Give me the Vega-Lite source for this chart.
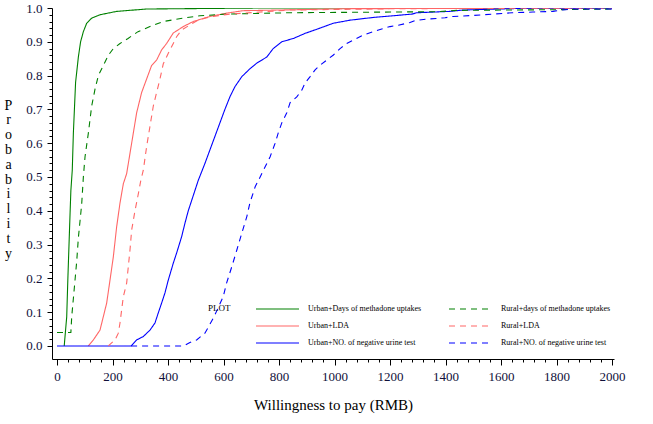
{
  "$schema": "https://vega.github.io/schema/vega-lite/v6.json",
  "width": 562,
  "height": 351,
  "autosize": "none",
  "padding": {"left": 52, "top": 8, "right": 39, "bottom": 65},
  "config": {
    "view": {"stroke": null},
    "font": "Liberation Serif",
    "axis": {"grid": false, "domainColor": "#000000", "tickColor": "#000000", "labelColor": "#10103a", "titleColor": "#000000", "labelFont": "Liberation Serif", "titleFont": "Liberation Serif", "titleFontWeight": "normal"},
    "legend": {"labelFont": "Liberation Serif", "titleFont": "Liberation Serif"}
  },
  "datasets": {
    "curves": [
      {"s": "Urban+Days of methadone uptakes", "x": 26, "p": 0},
      {"s": "Urban+Days of methadone uptakes", "x": 35, "p": 0.086},
      {"s": "Urban+Days of methadone uptakes", "x": 39, "p": 0.195},
      {"s": "Urban+Days of methadone uptakes", "x": 47, "p": 0.39},
      {"s": "Urban+Days of methadone uptakes", "x": 50, "p": 0.46},
      {"s": "Urban+Days of methadone uptakes", "x": 55, "p": 0.52},
      {"s": "Urban+Days of methadone uptakes", "x": 59, "p": 0.63},
      {"s": "Urban+Days of methadone uptakes", "x": 67, "p": 0.78},
      {"s": "Urban+Days of methadone uptakes", "x": 77, "p": 0.855},
      {"s": "Urban+Days of methadone uptakes", "x": 85, "p": 0.9},
      {"s": "Urban+Days of methadone uptakes", "x": 95, "p": 0.93},
      {"s": "Urban+Days of methadone uptakes", "x": 107, "p": 0.955},
      {"s": "Urban+Days of methadone uptakes", "x": 125, "p": 0.97},
      {"s": "Urban+Days of methadone uptakes", "x": 155, "p": 0.98},
      {"s": "Urban+Days of methadone uptakes", "x": 215, "p": 0.99},
      {"s": "Urban+Days of methadone uptakes", "x": 323, "p": 0.997},
      {"s": "Urban+Days of methadone uptakes", "x": 735, "p": 1.0},
      {"s": "Urban+Days of methadone uptakes", "x": 2000, "p": 1.0},

      {"s": "Urban+LDA", "x": 113, "p": 0},
      {"s": "Urban+LDA", "x": 131, "p": 0.018},
      {"s": "Urban+LDA", "x": 155, "p": 0.047},
      {"s": "Urban+LDA", "x": 167, "p": 0.087},
      {"s": "Urban+LDA", "x": 179, "p": 0.127},
      {"s": "Urban+LDA", "x": 191, "p": 0.195},
      {"s": "Urban+LDA", "x": 203, "p": 0.264},
      {"s": "Urban+LDA", "x": 215, "p": 0.353},
      {"s": "Urban+LDA", "x": 227, "p": 0.423},
      {"s": "Urban+LDA", "x": 239, "p": 0.48},
      {"s": "Urban+LDA", "x": 251, "p": 0.51},
      {"s": "Urban+LDA", "x": 269, "p": 0.6},
      {"s": "Urban+LDA", "x": 287, "p": 0.69},
      {"s": "Urban+LDA", "x": 305, "p": 0.75},
      {"s": "Urban+LDA", "x": 323, "p": 0.79},
      {"s": "Urban+LDA", "x": 341, "p": 0.83},
      {"s": "Urban+LDA", "x": 359, "p": 0.846},
      {"s": "Urban+LDA", "x": 377, "p": 0.876},
      {"s": "Urban+LDA", "x": 395, "p": 0.895},
      {"s": "Urban+LDA", "x": 419, "p": 0.926},
      {"s": "Urban+LDA", "x": 455, "p": 0.945},
      {"s": "Urban+LDA", "x": 491, "p": 0.96},
      {"s": "Urban+LDA", "x": 551, "p": 0.975},
      {"s": "Urban+LDA", "x": 613, "p": 0.985},
      {"s": "Urban+LDA", "x": 670, "p": 0.992},
      {"s": "Urban+LDA", "x": 1056, "p": 0.998},
      {"s": "Urban+LDA", "x": 2000, "p": 1.0},

      {"s": "Urban+NO. of negative urine test", "x": 0, "p": 0},
      {"s": "Urban+NO. of negative urine test", "x": 267, "p": 0},
      {"s": "Urban+NO. of negative urine test", "x": 287, "p": 0.018},
      {"s": "Urban+NO. of negative urine test", "x": 311, "p": 0.028},
      {"s": "Urban+NO. of negative urine test", "x": 335, "p": 0.047},
      {"s": "Urban+NO. of negative urine test", "x": 353, "p": 0.068},
      {"s": "Urban+NO. of negative urine test", "x": 365, "p": 0.098},
      {"s": "Urban+NO. of negative urine test", "x": 377, "p": 0.127},
      {"s": "Urban+NO. of negative urine test", "x": 389, "p": 0.157},
      {"s": "Urban+NO. of negative urine test", "x": 401, "p": 0.195},
      {"s": "Urban+NO. of negative urine test", "x": 419, "p": 0.245},
      {"s": "Urban+NO. of negative urine test", "x": 431, "p": 0.275},
      {"s": "Urban+NO. of negative urine test", "x": 449, "p": 0.323},
      {"s": "Urban+NO. of negative urine test", "x": 461, "p": 0.363},
      {"s": "Urban+NO. of negative urine test", "x": 473, "p": 0.4},
      {"s": "Urban+NO. of negative urine test", "x": 485, "p": 0.43},
      {"s": "Urban+NO. of negative urine test", "x": 497, "p": 0.46},
      {"s": "Urban+NO. of negative urine test", "x": 509, "p": 0.49},
      {"s": "Urban+NO. of negative urine test", "x": 533, "p": 0.54},
      {"s": "Urban+NO. of negative urine test", "x": 551, "p": 0.58},
      {"s": "Urban+NO. of negative urine test", "x": 569, "p": 0.62},
      {"s": "Urban+NO. of negative urine test", "x": 587, "p": 0.66},
      {"s": "Urban+NO. of negative urine test", "x": 605, "p": 0.7},
      {"s": "Urban+NO. of negative urine test", "x": 623, "p": 0.737},
      {"s": "Urban+NO. of negative urine test", "x": 641, "p": 0.767},
      {"s": "Urban+NO. of negative urine test", "x": 666, "p": 0.797},
      {"s": "Urban+NO. of negative urine test", "x": 695, "p": 0.82},
      {"s": "Urban+NO. of negative urine test", "x": 720, "p": 0.837},
      {"s": "Urban+NO. of negative urine test", "x": 756, "p": 0.855},
      {"s": "Urban+NO. of negative urine test", "x": 779, "p": 0.88},
      {"s": "Urban+NO. of negative urine test", "x": 810, "p": 0.9},
      {"s": "Urban+NO. of negative urine test", "x": 852, "p": 0.91},
      {"s": "Urban+NO. of negative urine test", "x": 894, "p": 0.925},
      {"s": "Urban+NO. of negative urine test", "x": 936, "p": 0.937},
      {"s": "Urban+NO. of negative urine test", "x": 996, "p": 0.955},
      {"s": "Urban+NO. of negative urine test", "x": 1056, "p": 0.964},
      {"s": "Urban+NO. of negative urine test", "x": 1139, "p": 0.972},
      {"s": "Urban+NO. of negative urine test", "x": 1211, "p": 0.977},
      {"s": "Urban+NO. of negative urine test", "x": 1279, "p": 0.982},
      {"s": "Urban+NO. of negative urine test", "x": 1297, "p": 0.986},
      {"s": "Urban+NO. of negative urine test", "x": 1416, "p": 0.99},
      {"s": "Urban+NO. of negative urine test", "x": 1463, "p": 0.994},
      {"s": "Urban+NO. of negative urine test", "x": 1586, "p": 0.997},
      {"s": "Urban+NO. of negative urine test", "x": 1730, "p": 1.0},
      {"s": "Urban+NO. of negative urine test", "x": 2000, "p": 1.0},

      {"s": "Rural+days of methadone uptakes", "x": 0, "p": 0.04},
      {"s": "Rural+days of methadone uptakes", "x": 50, "p": 0.04},
      {"s": "Rural+days of methadone uptakes", "x": 53, "p": 0.086},
      {"s": "Rural+days of methadone uptakes", "x": 71, "p": 0.25},
      {"s": "Rural+days of methadone uptakes", "x": 77, "p": 0.32},
      {"s": "Rural+days of methadone uptakes", "x": 83, "p": 0.37},
      {"s": "Rural+days of methadone uptakes", "x": 89, "p": 0.42},
      {"s": "Rural+days of methadone uptakes", "x": 95, "p": 0.5},
      {"s": "Rural+days of methadone uptakes", "x": 101, "p": 0.56},
      {"s": "Rural+days of methadone uptakes", "x": 113, "p": 0.63},
      {"s": "Rural+days of methadone uptakes", "x": 125, "p": 0.71},
      {"s": "Rural+days of methadone uptakes", "x": 137, "p": 0.76},
      {"s": "Rural+days of methadone uptakes", "x": 149, "p": 0.8},
      {"s": "Rural+days of methadone uptakes", "x": 167, "p": 0.83},
      {"s": "Rural+days of methadone uptakes", "x": 185, "p": 0.86},
      {"s": "Rural+days of methadone uptakes", "x": 203, "p": 0.88},
      {"s": "Rural+days of methadone uptakes", "x": 227, "p": 0.895},
      {"s": "Rural+days of methadone uptakes", "x": 256, "p": 0.91},
      {"s": "Rural+days of methadone uptakes", "x": 292, "p": 0.93},
      {"s": "Rural+days of methadone uptakes", "x": 335, "p": 0.945},
      {"s": "Rural+days of methadone uptakes", "x": 382, "p": 0.96},
      {"s": "Rural+days of methadone uptakes", "x": 454, "p": 0.97},
      {"s": "Rural+days of methadone uptakes", "x": 515, "p": 0.977},
      {"s": "Rural+days of methadone uptakes", "x": 613, "p": 0.982},
      {"s": "Rural+days of methadone uptakes", "x": 840, "p": 0.986},
      {"s": "Rural+days of methadone uptakes", "x": 1369, "p": 0.989},
      {"s": "Rural+days of methadone uptakes", "x": 1441, "p": 0.993},
      {"s": "Rural+days of methadone uptakes", "x": 1802, "p": 0.995},
      {"s": "Rural+days of methadone uptakes", "x": 2000, "p": 0.997},

      {"s": "Rural+LDA", "x": 185, "p": 0},
      {"s": "Rural+LDA", "x": 191, "p": 0.005},
      {"s": "Rural+LDA", "x": 209, "p": 0.018},
      {"s": "Rural+LDA", "x": 221, "p": 0.038},
      {"s": "Rural+LDA", "x": 227, "p": 0.068},
      {"s": "Rural+LDA", "x": 233, "p": 0.107},
      {"s": "Rural+LDA", "x": 239, "p": 0.146},
      {"s": "Rural+LDA", "x": 251, "p": 0.186},
      {"s": "Rural+LDA", "x": 257, "p": 0.235},
      {"s": "Rural+LDA", "x": 263, "p": 0.284},
      {"s": "Rural+LDA", "x": 269, "p": 0.343},
      {"s": "Rural+LDA", "x": 281, "p": 0.4},
      {"s": "Rural+LDA", "x": 293, "p": 0.45},
      {"s": "Rural+LDA", "x": 302, "p": 0.49},
      {"s": "Rural+LDA", "x": 311, "p": 0.52},
      {"s": "Rural+LDA", "x": 323, "p": 0.59},
      {"s": "Rural+LDA", "x": 335, "p": 0.65},
      {"s": "Rural+LDA", "x": 347, "p": 0.71},
      {"s": "Rural+LDA", "x": 359, "p": 0.75},
      {"s": "Rural+LDA", "x": 371, "p": 0.79},
      {"s": "Rural+LDA", "x": 383, "p": 0.835},
      {"s": "Rural+LDA", "x": 401, "p": 0.866},
      {"s": "Rural+LDA", "x": 419, "p": 0.895},
      {"s": "Rural+LDA", "x": 431, "p": 0.915},
      {"s": "Rural+LDA", "x": 449, "p": 0.935},
      {"s": "Rural+LDA", "x": 479, "p": 0.95},
      {"s": "Rural+LDA", "x": 508, "p": 0.964},
      {"s": "Rural+LDA", "x": 551, "p": 0.974},
      {"s": "Rural+LDA", "x": 623, "p": 0.982},
      {"s": "Rural+LDA", "x": 840, "p": 0.994},
      {"s": "Rural+LDA", "x": 1236, "p": 0.998},
      {"s": "Rural+LDA", "x": 2000, "p": 1.0},

      {"s": "Rural+NO. of negative urine test", "x": 267, "p": 0},
      {"s": "Rural+NO. of negative urine test", "x": 455, "p": 0},
      {"s": "Rural+NO. of negative urine test", "x": 479, "p": 0.01},
      {"s": "Rural+NO. of negative urine test", "x": 503, "p": 0.018},
      {"s": "Rural+NO. of negative urine test", "x": 533, "p": 0.038},
      {"s": "Rural+NO. of negative urine test", "x": 565, "p": 0.085},
      {"s": "Rural+NO. of negative urine test", "x": 599, "p": 0.146},
      {"s": "Rural+NO. of negative urine test", "x": 611, "p": 0.186},
      {"s": "Rural+NO. of negative urine test", "x": 630, "p": 0.235},
      {"s": "Rural+NO. of negative urine test", "x": 648, "p": 0.284},
      {"s": "Rural+NO. of negative urine test", "x": 666, "p": 0.334},
      {"s": "Rural+NO. of negative urine test", "x": 684, "p": 0.383},
      {"s": "Rural+NO. of negative urine test", "x": 695, "p": 0.423},
      {"s": "Rural+NO. of negative urine test", "x": 714, "p": 0.471},
      {"s": "Rural+NO. of negative urine test", "x": 732, "p": 0.5},
      {"s": "Rural+NO. of negative urine test", "x": 750, "p": 0.53},
      {"s": "Rural+NO. of negative urine test", "x": 768, "p": 0.56},
      {"s": "Rural+NO. of negative urine test", "x": 786, "p": 0.6},
      {"s": "Rural+NO. of negative urine test", "x": 797, "p": 0.63},
      {"s": "Rural+NO. of negative urine test", "x": 810, "p": 0.66},
      {"s": "Rural+NO. of negative urine test", "x": 828, "p": 0.69},
      {"s": "Rural+NO. of negative urine test", "x": 840, "p": 0.72},
      {"s": "Rural+NO. of negative urine test", "x": 864, "p": 0.737},
      {"s": "Rural+NO. of negative urine test", "x": 882, "p": 0.757},
      {"s": "Rural+NO. of negative urine test", "x": 894, "p": 0.778},
      {"s": "Rural+NO. of negative urine test", "x": 912, "p": 0.797},
      {"s": "Rural+NO. of negative urine test", "x": 930, "p": 0.817},
      {"s": "Rural+NO. of negative urine test", "x": 948, "p": 0.831},
      {"s": "Rural+NO. of negative urine test", "x": 972, "p": 0.846},
      {"s": "Rural+NO. of negative urine test", "x": 996, "p": 0.861},
      {"s": "Rural+NO. of negative urine test", "x": 1020, "p": 0.88},
      {"s": "Rural+NO. of negative urine test", "x": 1044, "p": 0.895},
      {"s": "Rural+NO. of negative urine test", "x": 1068, "p": 0.905},
      {"s": "Rural+NO. of negative urine test", "x": 1104, "p": 0.92},
      {"s": "Rural+NO. of negative urine test", "x": 1140, "p": 0.93},
      {"s": "Rural+NO. of negative urine test", "x": 1170, "p": 0.938},
      {"s": "Rural+NO. of negative urine test", "x": 1200, "p": 0.945},
      {"s": "Rural+NO. of negative urine test", "x": 1230, "p": 0.949},
      {"s": "Rural+NO. of negative urine test", "x": 1272, "p": 0.957},
      {"s": "Rural+NO. of negative urine test", "x": 1290, "p": 0.963},
      {"s": "Rural+NO. of negative urine test", "x": 1332, "p": 0.967},
      {"s": "Rural+NO. of negative urine test", "x": 1398, "p": 0.971},
      {"s": "Rural+NO. of negative urine test", "x": 1427, "p": 0.975},
      {"s": "Rural+NO. of negative urine test", "x": 1499, "p": 0.978},
      {"s": "Rural+NO. of negative urine test", "x": 1571, "p": 0.982},
      {"s": "Rural+NO. of negative urine test", "x": 1640, "p": 0.986},
      {"s": "Rural+NO. of negative urine test", "x": 1715, "p": 0.988},
      {"s": "Rural+NO. of negative urine test", "x": 1787, "p": 0.99},
      {"s": "Rural+NO. of negative urine test", "x": 1820, "p": 0.994},
      {"s": "Rural+NO. of negative urine test", "x": 1859, "p": 0.997},
      {"s": "Rural+NO. of negative urine test", "x": 2000, "p": 0.997}
    ]
  },
  "data": {"name": "curves"},
  "layer": [
    {
      "mark": {"type": "line", "strokeWidth": 1.1, "clip": true},
      "encoding": {
        "x": {
          "field": "x", "type": "quantitative",
          "scale": {"domain": [-18, 2007], "nice": false, "zero": false},
          "axis": {
            "values": [0, 200, 400, 600, 800, 1000, 1200, 1400, 1600, 1800, 2000],
            "format": "d", "labelFont": "Liberation Serif",
            "tickSize": 6, "labelPadding": 5, "labelFontSize": 13, "labelFlush": false,
            "title": "Willingness to pay (RMB)", "titleFont": "Liberation Serif", "titleFontSize": 15, "titlePadding": 14
          }
        },
        "y": {
          "field": "p", "type": "quantitative",
          "scale": {"domain": [-0.0385, 1.0], "nice": false, "zero": false},
          "axis": {
            "values": [0, 0.1, 0.2, 0.3, 0.4, 0.5, 0.6, 0.7, 0.8, 0.9, 1.0],
            "format": ".1f", "labelFont": "Liberation Serif",
            "tickSize": 5, "labelPadding": 5, "labelFontSize": 13, "labelFlush": false,
            "title": ["P", "r", "o", "b", "a", "b", "i", "l", "i", "t", "y"], "titleFont": "Liberation Serif",
            "titleAngle": 0, "titleX": -44, "titleY": 97, "titleAlign": "center", "titleBaseline": "middle",
            "titleFontSize": 14, "titleLineHeight": 14.8
          }
        },
        "color": {
          "field": "s", "type": "nominal",
          "scale": {
            "domain": ["Urban+Days of methadone uptakes", "Urban+LDA", "Urban+NO. of negative urine test", "Rural+days of methadone uptakes", "Rural+LDA", "Rural+NO. of negative urine test"],
            "range": ["#008000", "#ff6666", "#0000ff", "#008000", "#ff6666", "#0000ff"]
          },
          "legend": {
            "orient": "none", "legendX": 156, "legendY": 296, "columns": 2,
            "title": "PLOT", "titleOrient": "left", "titleAnchor": "start", "titleBaseline": "top", "titleFontSize": 9, "titleFontWeight": "normal", "titlePadding": 24,
            "labelFontSize": 8, "labelColor": "#000000", "symbolType": "stroke", "symbolSize": 1849, "symbolStrokeWidth": 1.2,
            "labelOffset": 8, "columnPadding": 26, "rowPadding": 7, "clipHeight": 10
          }
        },
        "strokeDash": {
          "field": "s", "type": "nominal",
          "scale": {
            "domain": ["Urban+Days of methadone uptakes", "Urban+LDA", "Urban+NO. of negative urine test", "Rural+days of methadone uptakes", "Rural+LDA", "Rural+NO. of negative urine test"],
            "range": [[1, 0], [1, 0], [1, 0], [6, 5], [6, 5], [6, 5]]
          },
          "legend": {
            "orient": "none", "legendX": 156, "legendY": 296, "columns": 2,
            "title": "PLOT", "titleOrient": "left", "titleAnchor": "start", "titleBaseline": "top", "titleFontSize": 9, "titleFontWeight": "normal", "titlePadding": 24,
            "labelFontSize": 8, "labelColor": "#000000", "symbolType": "stroke", "symbolSize": 1849, "symbolStrokeWidth": 1.2,
            "labelOffset": 8, "columnPadding": 26, "rowPadding": 7, "clipHeight": 10
          }
        }
      }
    },
    {
      "mark": {"type": "line", "opacity": 0},
      "encoding": {
        "x": {
          "field": "x", "type": "quantitative",
          "axis": {
            "orient": "bottom", "domain": false, "labels": false, "title": null, "tickSize": 3,
            "values": [40, 80, 120, 160, 240, 280, 320, 360, 440, 480, 520, 560, 640, 680, 720, 760, 840, 880, 920, 960, 1040, 1080, 1120, 1160, 1240, 1280, 1320, 1360, 1440, 1480, 1520, 1560, 1640, 1680, 1720, 1760, 1840, 1880, 1920, 1960]
          }
        },
        "y": {
          "field": "p", "type": "quantitative",
          "axis": {
            "orient": "left", "domain": false, "labels": false, "title": null, "tickSize": 3,
            "values": [0.02, 0.04, 0.06, 0.08, 0.12, 0.14, 0.16, 0.18, 0.22, 0.24, 0.26, 0.28, 0.32, 0.34, 0.36, 0.38, 0.42, 0.44, 0.46, 0.48, 0.52, 0.54, 0.56, 0.58, 0.62, 0.64, 0.66, 0.68, 0.72, 0.74, 0.76, 0.78, 0.82, 0.84, 0.86, 0.88, 0.92, 0.94, 0.96, 0.98]
          }
        },
        "detail": {"field": "s", "type": "nominal"}
      }
    }
  ],
  "resolve": {"axis": {"x": "independent", "y": "independent"}}
}
